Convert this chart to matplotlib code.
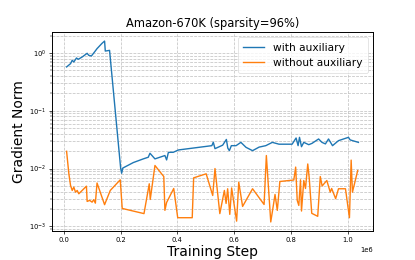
import matplotlib
matplotlib.use("Agg")
import matplotlib.pyplot as plt

# Data (training step, gradient norm)
with_aux_steps = [10500, 24400, 30300, 35900, 45300, 51300, 65200, 82700, 88200, 97700,
                  109200, 117500, 135000, 144000, 146500, 161500,
                  200600, 204000, 208000, 245000, 280000, 297500, 303500, 321000,
                  356000, 362000, 368000, 373000, 385000, 404000,
                  521000, 526000, 532000, 559000, 572000, 577000, 582500, 589500,
                  606000, 623000, 641000, 664000, 687000, 710500, 733500, 757000,
                  803000, 817000, 824000, 829000, 836000, 844000, 861500, 873000,
                  896000, 908000, 920000, 931000, 945000, 966000, 1001000, 1007000, 1036000]
with_aux_norm = [0.574, 0.654, 0.748, 0.700, 0.820, 0.778, 0.853, 0.988, 0.913, 0.888,
                 1.05, 1.19, 1.47, 1.61, 1.08, 1.11,
                 0.0100, 0.0083, 0.0102, 0.0127, 0.0147, 0.0157, 0.0184, 0.0147,
                 0.0168, 0.0141, 0.0189, 0.0191, 0.0191, 0.0210,
                 0.0249, 0.0286, 0.0221, 0.0254, 0.0319, 0.0226, 0.0204, 0.0249,
                 0.0249, 0.0284, 0.0233, 0.0204, 0.0235, 0.0249, 0.0284, 0.0264,
                 0.0264, 0.0338, 0.0249, 0.0347, 0.0239, 0.0284, 0.0259, 0.0273,
                 0.0325, 0.0284, 0.0267, 0.0325, 0.0249, 0.0304, 0.0347, 0.0313, 0.0284]

without_aux_steps = [10500, 18500, 24400, 30300, 35900, 41900, 47800, 53400, 80200, 82700,
                     91700, 100100, 105700, 111600, 117500, 126600, 144000, 164000, 199000,
                     206000, 282500, 301000, 304500, 321000, 352000, 356000, 362000, 387000,
                     401000, 452000, 457000, 501000, 524000, 532000, 549000, 565000,
                     571000, 576500, 584000, 590500, 608000, 615500, 629000, 664000,
                     704500, 712500, 728000, 743000, 751000, 760000, 809000, 815500,
                     821000, 826500, 832500, 836000, 844000, 850000, 858000, 863000,
                     872000, 893000, 902000, 908500, 925000, 937000, 942000, 956000,
                     966000, 990500, 1004500, 1010500, 1015000, 1033500]
without_aux_norm = [0.0199, 0.0081, 0.0051, 0.00418, 0.00476, 0.00390, 0.00418, 0.00366, 0.00495, 0.00270,
                    0.00281, 0.00262, 0.00289, 0.00252, 0.00562, 0.00418, 0.00237, 0.00418, 0.00638,
                    0.00204, 0.00166, 0.00545, 0.00292, 0.0113, 0.00728, 0.00189, 0.00259, 0.00452,
                    0.00141, 0.00141, 0.00691, 0.00811, 0.00342, 0.0100, 0.00166, 0.00418,
                    0.00249, 0.00447, 0.00161, 0.00461, 0.00123, 0.00581, 0.00221, 0.00447,
                    0.00239, 0.0168, 0.00119, 0.00356, 0.00189, 0.00597, 0.00634, 0.0106,
                    0.00281, 0.00230, 0.00638, 0.00184, 0.00621, 0.00452, 0.0120, 0.00700,
                    0.00168, 0.00149, 0.00728, 0.00499, 0.00621, 0.00390, 0.00452, 0.00301,
                    0.00447, 0.00447, 0.00141, 0.0140, 0.00390, 0.00924]

title = "Amazon-670K (sparsity=96%)"
xlabel = "Training Step"
ylabel = "Gradient Norm"
labels = ["with auxiliary", "without auxiliary"]

fig = plt.figure(figsize=(4.15, 2.6), dpi=100)
ax = fig.add_axes([0.1253, 0.1115, 0.8988 - 0.1253, 0.8769 - 0.1115])

ax.plot(with_aux_steps, with_aux_norm, color="#1f77b4", lw=1.0, label=labels[0])
ax.plot(without_aux_steps, without_aux_norm, color="#ff7f0e", lw=1.0, label=labels[1])
ax.set_yscale("log")

ax.grid(True, which="both", linestyle="--", color="#c4c4c4", linewidth=0.55)
ax.set_title(title, fontsize=8.3, pad=3.5)
ax.set_xlabel(xlabel, fontsize=10, labelpad=2)
ax.set_ylabel(ylabel, fontsize=10, labelpad=2)
ax.tick_params(axis="both", which="major", labelsize=4.9, length=2.0, width=0.5, pad=2.0)
ax.tick_params(axis="both", which="minor", length=1.1, width=0.35)
ax.xaxis.get_offset_text().set_fontsize(4.9)
for s in ax.spines.values():
    s.set_linewidth(0.7)

leg = ax.legend(loc="upper right", fontsize=7.7, framealpha=0.8,
                borderpad=0.5, handlelength=2.0, labelspacing=0.5)
leg.get_frame().set_linewidth(0.45)

fig.savefig("out.png", dpi=100)
